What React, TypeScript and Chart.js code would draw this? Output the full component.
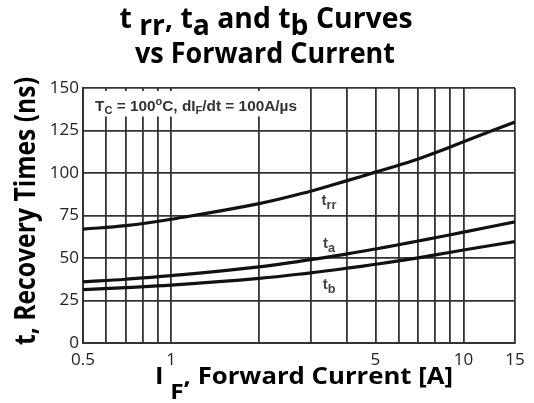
import { useEffect, useRef } from 'react';
import { Chart, registerables } from 'chart.js';

Chart.register(...registerables);

// ---- data ----
const forwardCurrent = [0.5, 0.7, 1, 2, 3, 4, 5, 6, 7, 8, 10, 15];
const trrValues = [67, 69, 72.8, 82, 89.3, 95.5, 100.5, 104.6, 108.3, 111.9, 118.4, 130];
const taValues = [36, 37.5, 39.6, 44.8, 49.0, 52.4, 55.3, 57.8, 60.0, 61.9, 65.2, 71.3];
const tbValues = [31.4, 32.6, 34.0, 38.0, 41.3, 44.0, 46.3, 48.3, 50.1, 51.8, 54.7, 59.7];

const xGridTicks = [0.5, 0.6, 0.7, 0.8, 0.9, 1, 2, 3, 4, 5, 6, 7, 8, 9, 10, 15];
const xTickLabels = [0.5, 1, 5, 10, 15];
const yTickStep = 25;

const curveLabelNames = ['rr', 'a', 'b'];
const curveLabelX = [3.47, 3.47, 3.47];
const curveLabelY = [83.2, 57.9, 33.8];

type Part = { t: string; sub?: boolean; sup?: boolean };
type RichOpts = {
  x: number;
  y: number;
  size: number;
  family: string;
  weight: string;
  color: string;
  width?: number;
  align: 'center' | 'left';
  subScale: number;
  subDy: number;
  supDy?: number;
  rotate?: boolean;
};

function drawRich(ctx: CanvasRenderingContext2D, parts: Part[], o: RichOpts) {
  const fontFor = (p: Part) =>
    `${o.weight} ${p.sub || p.sup ? o.size * o.subScale : o.size}px ${o.family}`;
  let total = 0;
  const widths = parts.map((p) => {
    ctx.font = fontFor(p);
    const w = ctx.measureText(p.t).width;
    total += w;
    return w;
  });
  const sx = o.width ? o.width / total : 1;
  ctx.save();
  ctx.translate(o.x, o.y);
  if (o.rotate) ctx.rotate(-Math.PI / 2);
  ctx.scale(sx, 1);
  ctx.fillStyle = o.color;
  ctx.textBaseline = 'alphabetic';
  ctx.textAlign = 'left';
  let cx = o.align === 'center' ? -total / 2 : 0;
  parts.forEach((p, i) => {
    ctx.font = fontFor(p);
    const dy = p.sub ? o.subDy : p.sup ? o.supDy || 0 : 0;
    ctx.fillText(p.t, cx, dy);
    cx += widths[i];
  });
  ctx.restore();
}

const TITLE_FONT = '"Open Sans", "Noto Sans", sans-serif';
const SMALL_FONT = '"Liberation Sans", Arial, sans-serif';
const GRID = '#333333';

const overlay = {
  id: 'overlay',
  beforeDatasetsDraw(chart: any) {
    const { ctx, chartArea } = chart;
    const { left, top } = chartArea;
    ctx.save();
    ctx.fillStyle = '#ffffff';
    ctx.fillRect(left + 1.2, top + 3, 221, 25.5);
    ctx.restore();
    drawRich(
      ctx,
      [
        { t: 'T' },
        { t: 'C', sub: true },
        { t: ' = 100' },
        { t: 'o', sup: true },
        { t: 'C, dI' },
        { t: 'F', sub: true },
        { t: '/dt = 100A/\u00b5s' },
      ],
      {
        x: left + 12,
        y: top + 23,
        size: 15,
        family: SMALL_FONT,
        weight: 'bold',
        color: '#333',
        width: 202,
        align: 'left',
        subScale: 0.72,
        subDy: 3,
        supDy: -6,
      }
    );
  },
  afterDatasetsDraw(chart: any) {
    const { ctx } = chart;
    const xs = chart.scales.x;
    const ys = chart.scales.y;
    curveLabelNames.forEach((name, i) => {
      const px = xs.getPixelForValue(curveLabelX[i]);
      const py = ys.getPixelForValue(curveLabelY[i]);
      drawRich(ctx, [{ t: 't' }, { t: name, sub: true }], {
        x: px,
        y: py + 3,
        size: 15,
        family: SMALL_FONT,
        weight: 'bold',
        color: '#444',
        align: 'center',
        subScale: 0.85,
        subDy: 4,
      });
    });
  },
  afterDraw(chart: any) {
    const { ctx } = chart;
    // chart title
    drawRich(
      ctx,
      [
        { t: 't ' },
        { t: 'rr', sub: true },
        { t: ', t' },
        { t: 'a', sub: true },
        { t: ' and t' },
        { t: 'b', sub: true },
        { t: ' Curves' },
      ],
      {
        x: 266,
        y: 28,
        size: 29,
        family: TITLE_FONT,
        weight: 'bold',
        color: '#000',
        width: 293,
        align: 'center',
        subScale: 1,
        subDy: 7,
      }
    );
    drawRich(ctx, [{ t: 'vs Forward Current' }], {
      x: 265,
      y: 63,
      size: 29,
      family: TITLE_FONT,
      weight: 'bold',
      color: '#000',
      width: 260,
      align: 'center',
      subScale: 1,
      subDy: 0,
    });
    // x axis title
    drawRich(ctx, [{ t: 'I ' }, { t: 'F', sub: true }, { t: ', Forward Current [A]' }], {
      x: 155,
      y: 384,
      size: 23,
      family: TITLE_FONT,
      weight: 'bold',
      color: '#000',
      width: 298,
      align: 'left',
      subScale: 0.95,
      subDy: 15,
    });
    // y axis title
    drawRich(ctx, [{ t: 't, Recovery Times (ns)' }], {
      x: 35,
      y: 211,
      size: 28,
      family: TITLE_FONT,
      weight: 'bold',
      color: '#000',
      width: 268,
      align: 'center',
      subScale: 1,
      subDy: 0,
      rotate: true,
    });
  },
};

export default function App() {
  const canvasRef = useRef<HTMLCanvasElement | null>(null);

  useEffect(() => {
    const canvas = canvasRef.current;
    if (!canvas) return;
    const mk = (vals: number[], label: string) => ({
      label,
      data: forwardCurrent.map((x, i) => ({ x, y: vals[i] })),
      borderColor: '#111',
      backgroundColor: '#111',
      borderWidth: 3.2,
      pointRadius: 0,
      tension: 0.4,
      fill: false,
    });
    const chart = new Chart(canvas, {
      type: 'line',
      data: {
        datasets: [mk(trrValues, 'trr'), mk(taValues, 'ta'), mk(tbValues, 'tb')],
      },
      options: {
        animation: false,
        responsive: false,
        maintainAspectRatio: false,
        layout: { padding: { top: 88, right: 19, left: 0, bottom: 0 } },
        plugins: {
          legend: { display: false },
          title: { display: false },
          tooltip: { enabled: false },
        },
        scales: {
          x: {
            type: 'logarithmic',
            min: 0.5,
            max: 15,
            afterBuildTicks: (s: any) => {
              s.ticks = xGridTicks.map((v) => ({ value: v }));
            },
            afterFit: (s: any) => {
              s.height = 60;
            },
            ticks: {
              autoSkip: false,
              maxRotation: 0,
              minRotation: 0,
              padding: 7,
              color: '#222',
              font: { family: '"Open Sans", sans-serif', size: 17 },
              callback: (v: any) => (xTickLabels.includes(Number(v)) ? String(v) : ''),
            },
            grid: { color: GRID, lineWidth: 1.8, drawTicks: false },
            border: { color: GRID, width: 2 },
          },
          y: {
            type: 'linear',
            min: 0,
            max: 150,
            afterFit: (s: any) => {
              s.width = 83;
            },
            ticks: {
              stepSize: yTickStep,
              padding: 4,
              color: '#222',
              font: { family: '"Open Sans", sans-serif', size: 17 },
            },
            grid: { color: GRID, lineWidth: 1.8, drawTicks: false },
            border: { color: GRID, width: 2 },
          },
        },
      },
      plugins: [overlay],
    } as any);
    return () => chart.destroy();
  }, []);

  return (
    <div
      style={{
        position: 'absolute',
        left: 0,
        top: 0,
        width: 534,
        height: 403,
        background: '#fff',
      }}
    >
      <canvas ref={canvasRef} width={534} height={403} style={{ display: 'block' }} />
    </div>
  );
}
